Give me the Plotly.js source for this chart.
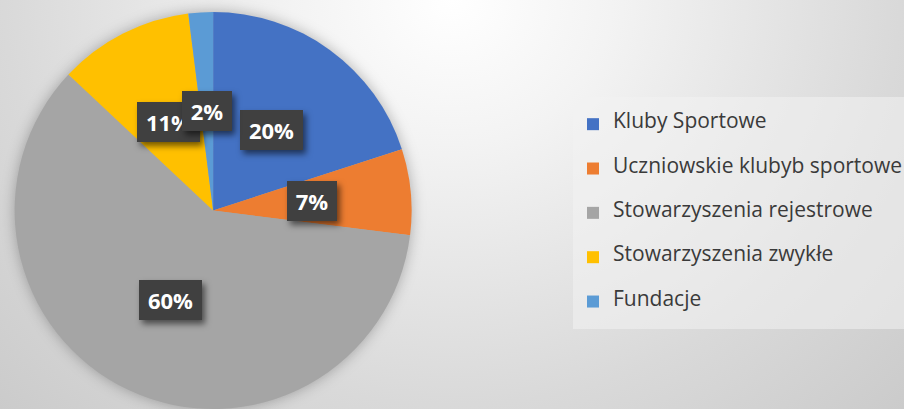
<!DOCTYPE html>
<html>
<head>
<meta charset="utf-8">
<script src="https://cdn.plot.ly/plotly-3.0.1.min.js"></script>
<style>
  html, body { margin:0; padding:0; }
  body {
    width:904px; height:409px; overflow:hidden;
    background: radial-gradient(farthest-corner at 50% 0%, #ffffff 0%, #f3f3f3 25%, #d9d9d9 70%, #cbcbcb 100%);
  }
  #chart { width:904px; height:409px; }
  .pielayer { filter: drop-shadow(0px 0px 7px rgba(0,0,0,0.28)); }
  .annotation-text-g rect.bg { filter: drop-shadow(3px 4px 3px rgba(0,0,0,0.55)); }
</style>
</head>
<body>
<div id="chart"></div>
<script>
const categories = ["Kluby Sportowe", "Uczniowskie klubyb sportowe", "Stowarzyszenia rejestrowe", "Stowarzyszenia zwykłe", "Fundacje"];
const values = [20, 7, 60, 11, 2];
const colors = ["#4472C4", "#ED7D31", "#A5A5A5", "#FFC000", "#5B9BD5"];

const W = 904, H = 409;
const domX = [0.016, 0.4555];
const domY = [0, 0.9707];

// legend labels: name on the middle line, blank lines around for Excel-like spacing
const legendLabels = categories.map(c => '&nbsp;<br><span style="font-size:21px">' + c + '</span><br>&nbsp;');

const total = values.reduce((a, b) => a + b, 0);
const cxPx = W * (domX[0] + domX[1]) / 2;
const cyPx = H * (1 - (domY[0] + domY[1]) / 2);
const rPx = Math.min(W * (domX[1] - domX[0]), H * (domY[1] - domY[0])) / 2;

const annotations = [];
let cum = 0;
values.forEach((v, i) => {
  const mid = (cum + v / 2) / total * 2 * Math.PI;
  cum += v;
  const lx = cxPx + 0.5 * rPx * Math.sin(mid);
  const ly = cyPx - 0.5 * rPx * Math.cos(mid);
  const txt = Math.round(v / total * 100) + '%';
  annotations.push({
    xref: 'paper', yref: 'paper',
    x: lx / W, y: 1 - ly / H,
    xanchor: 'center', yanchor: 'middle',
    showarrow: false,
    text: '<b>' + txt + '</b>',
    font: { family: 'Open Sans, sans-serif', size: 22, color: '#ffffff' },
    bgcolor: '#404040',
    borderpad: 0,
    borderwidth: 0,
    width: txt.length > 2 ? 63 : 50,
    height: 40
  });
});

const trace = {
  type: 'pie',
  labels: legendLabels,
  values: values,
  marker: { colors: colors, line: { width: 0 } },
  sort: false,
  direction: 'clockwise',
  rotation: 0,
  textinfo: 'none',
  hoverinfo: 'none',
  domain: { x: domX, y: domY }
};

const layout = {
  width: W, height: H,
  margin: { l: 0, r: 0, t: 0, b: 0, autoexpand: false },
  paper_bgcolor: 'rgba(0,0,0,0)',
  plot_bgcolor: 'rgba(0,0,0,0)',
  showlegend: true,
  legend: {
    x: 573 / W, y: 1 - 97 / H,
    xanchor: 'left', yanchor: 'top',
    bgcolor: 'rgba(242,242,242,0.55)',
    borderwidth: 0,
    valign: 'middle',
    font: { family: 'Open Sans, sans-serif', size: 10.6, color: '#3a3a3a' }
  },
  annotations: annotations
};

Plotly.newPlot('chart', [trace], layout, { staticPlot: true });
</script>
</body>
</html>
